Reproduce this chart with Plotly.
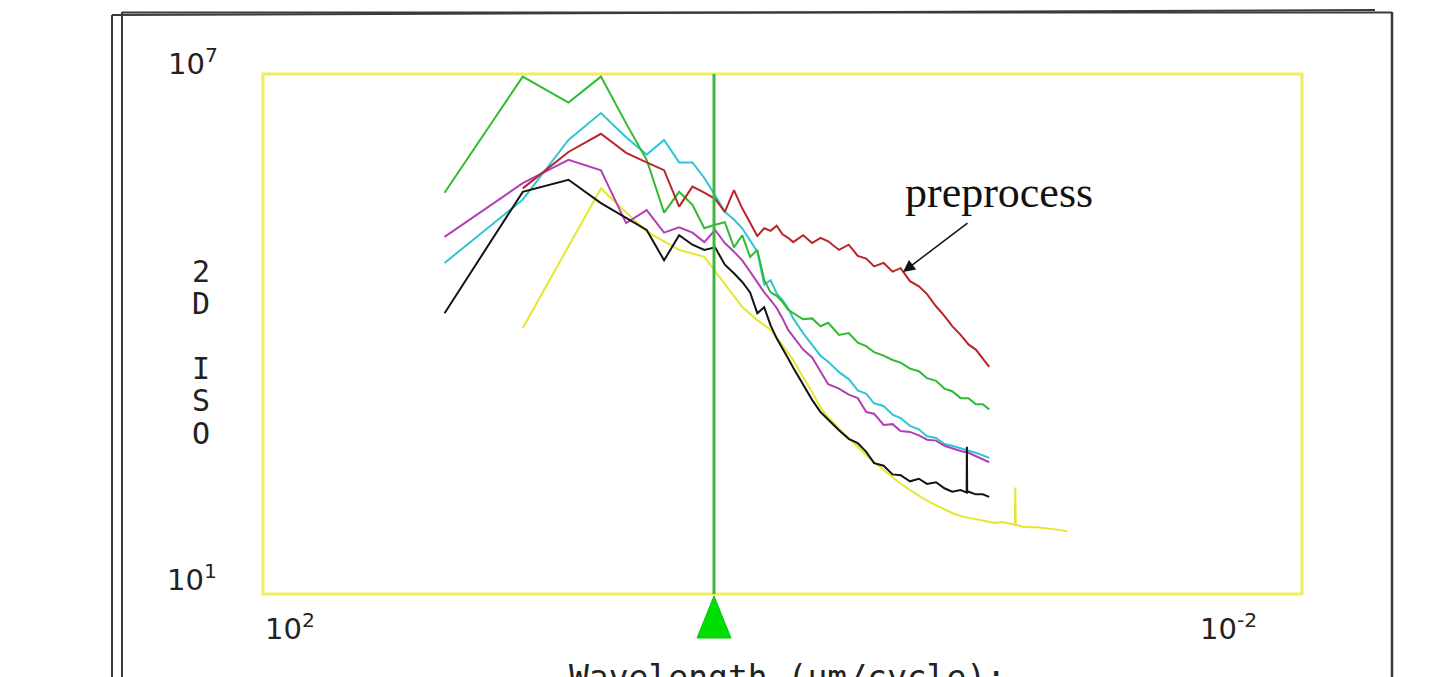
import plotly.graph_objects as go

# ---------------- data ----------------
# wavelengths (um/cycle) shared by most curves
wavelength = [20, 10, 6.667, 5, 4, 3.333, 2.857, 2.5, 2.222, 2.0,
              1.818, 1.667, 1.538, 1.429, 1.333, 1.25, 1.176, 1.111, 1.053, 1.0,
              0.952, 0.909, 0.833, 0.769, 0.714, 0.667, 0.606, 0.556, 0.513, 0.476,
              0.444, 0.408, 0.377, 0.351, 0.323, 0.2985, 0.2778, 0.2564, 0.2381, 0.2222,
              0.2062, 0.1923, 0.1802, 0.1695, 0.16]

# log10 of the 2D ISO PSD for each curve
red_log = [5.68, 6.10, 6.31, 6.09, 5.98, 5.89, 5.47, 5.70, 5.63, 5.56,
           5.41, 5.66, 5.45, 5.29, 5.13, 5.22, 5.19, 5.25, 5.15, 5.11,
           5.06, 5.14, 5.05, 5.11, 5.07, 4.97, 5.03, 4.90, 4.87, 4.78,
           4.82, 4.72, 4.76, 4.61, 4.55, 4.46, 4.32, 4.21, 4.09, 3.99,
           3.88, 3.82, 3.72, 3.62]          # starts at wavelength 10

green_log = [5.63, 6.97, 6.67, 6.97, 6.43, 6.01, 5.40, 5.64, 5.49, 5.22,
             5.26, 5.29, 5.00, 5.14, 4.89, 4.97, 4.62, 4.48, 4.44, 4.37,
             4.28, 4.24, 4.17, 4.18, 4.09, 4.13, 3.99, 4.01, 3.90, 3.86,
             3.79, 3.75, 3.70, 3.67, 3.60, 3.57, 3.49, 3.46, 3.37, 3.34,
             3.26, 3.26, 3.19, 3.19, 3.13]

cyan_log = [4.82, 5.55, 6.24, 6.55, 6.27, 6.07, 6.24, 5.98, 5.98, 5.80,
            5.60, 5.41, 5.32, 5.22, 5.08, 4.95, 4.57, 4.62, 4.47, 4.39,
            4.30, 4.18, 4.01, 3.87, 3.75, 3.68, 3.56, 3.48, 3.35, 3.31,
            3.20, 3.17, 3.07, 3.03, 2.94, 2.90, 2.82, 2.80, 2.73, 2.71,
            2.68, 2.66, 2.63, 2.60, 2.57]

purple_log = [5.12, 5.74, 6.01, 5.89, 5.28, 5.43, 5.17, 5.23, 5.17, 5.06,
              5.20, 5.05, 4.95, 4.85, 4.72, 4.60, 4.48, 4.39, 4.30, 4.18,
              4.05, 3.97, 3.82, 3.73, 3.57, 3.42, 3.37, 3.30, 3.26, 3.10,
              3.08, 2.95, 2.96, 2.88, 2.87, 2.83, 2.78, 2.77, 2.71, 2.68,
              2.65, 2.63, 2.59, 2.56, 2.52]

black_spike_wl = [0.1955, 0.195, 0.1945]
black_log = [4.24, 5.64, 5.78, 5.51, 5.34, 5.20, 4.85, 5.14, 5.03, 4.97,
             5.00, 4.80, 4.70, 4.60, 4.48, 4.24, 4.31, 4.10, 3.95, 3.84,
             3.72, 3.61, 3.41, 3.24, 3.10, 3.01, 2.89, 2.79, 2.74, 2.64,
             2.51, 2.48, 2.38, 2.37, 2.30, 2.33, 2.27, 2.29, 2.22, 2.18,
             2.20, 2.17, 2.70, 2.17, 2.18, 2.15, 2.15, 2.12]

yellow_wl = [10, 5, 3.333, 2.5, 2.0, 1.667, 1.429, 1.25, 1.111, 1.0,
             0.909, 0.833, 0.769, 0.714, 0.667, 0.588, 0.526, 0.476, 0.435, 0.4,
             0.357, 0.323, 0.294, 0.263, 0.238, 0.217, 0.2, 0.185, 0.172, 0.161,
             0.152, 0.143, 0.1335, 0.1275, 0.127, 0.1265, 0.12, 0.112, 0.105, 0.098,
             0.092, 0.086, 0.08]
yellow_log = [4.07, 5.68, 5.18, 4.97, 4.89, 4.57, 4.31, 4.16, 4.05, 3.87,
              3.70, 3.50, 3.33, 3.15, 3.04, 2.87, 2.73, 2.60, 2.50, 2.41,
              2.29, 2.20, 2.12, 2.04, 1.98, 1.92, 1.89, 1.87, 1.85, 1.84,
              1.82, 1.83, 1.81, 1.80, 2.23, 1.80, 1.78, 1.77, 1.77, 1.76,
              1.75, 1.74, 1.72]

cursor_wavelength = 1.835
x_range_log = [2, -2]   # 10^2 .. 10^-2 (reversed)
y_range_log = [1, 7]    # 10^1 .. 10^7

W, H = 1454, 677
def PX(x):
    return x / W
def PY(y):
    return 1 - y / H

def vals(logs):
    return [10 ** v for v in logs]

black_wl = wavelength[:41] + black_spike_wl + wavelength[41:]

series = [
    ("yellow", yellow_wl, yellow_log, "#e6e62e"),
    ("cyan", wavelength, cyan_log, "#2ec6d6"),
    ("purple", wavelength, purple_log, "#b23fb6"),
    ("black", black_wl, black_log, "#141414"),
    ("green", wavelength, green_log, "#2fba2f"),
    ("red", wavelength[1:], red_log, "#b8262a"),
]

fig = go.Figure()
for name, xs, ls, col in series:
    fig.add_trace(go.Scatter(x=xs, y=vals(ls), mode="lines", name=name,
                             line=dict(color=col, width=2), showlegend=False,
                             hoverinfo="skip"))

# cursor line
fig.add_trace(go.Scatter(x=[cursor_wavelength, cursor_wavelength],
                         y=[10 ** y_range_log[1], 10 ** y_range_log[0]],
                         mode="lines", line=dict(color="#3cb83c", width=3),
                         showlegend=False, hoverinfo="skip"))

fig.update_layout(
    width=W, height=H,
    margin=dict(l=0, r=0, t=0, b=0),
    paper_bgcolor="white", plot_bgcolor="white",
    xaxis=dict(type="log", range=x_range_log, domain=[PX(263), PX(1302)],
               showgrid=False, zeroline=False, showticklabels=False,
               ticks="", showline=False),
    yaxis=dict(type="log", range=y_range_log, domain=[PY(594), PY(74)],
               showgrid=False, zeroline=False, showticklabels=False,
               ticks="", showline=False),
)

shapes = []
# yellow plot frame
shapes.append(dict(type="rect", xref="paper", yref="paper",
                   x0=PX(263), x1=PX(1302), y0=PY(594), y1=PY(74),
                   line=dict(color="#eeee60", width=3), layer="below"))
# outer window frame lines
frame_col = "#3a3a3a"
shapes.append(dict(type="line", xref="paper", yref="paper",
                   x0=PX(112), y0=PY(15), x1=PX(112), y1=PY(680),
                   line=dict(color=frame_col, width=2)))
shapes.append(dict(type="line", xref="paper", yref="paper",
                   x0=PX(122), y0=PY(12), x1=PX(122), y1=PY(680),
                   line=dict(color=frame_col, width=2)))
shapes.append(dict(type="line", xref="paper", yref="paper",
                   x0=PX(112), y0=PY(15), x1=PX(1375), y1=PY(10),
                   line=dict(color=frame_col, width=2)))
shapes.append(dict(type="line", xref="paper", yref="paper",
                   x0=PX(122), y0=PY(12.5), x1=PX(1392), y1=PY(12.5),
                   line=dict(color=frame_col, width=2)))
shapes.append(dict(type="line", xref="paper", yref="paper",
                   x0=PX(1392), y0=PY(12), x1=PX(1392), y1=PY(680),
                   line=dict(color=frame_col, width=2.5)))
# cursor triangle
tri = "M {:.5f} {:.5f} L {:.5f} {:.5f} L {:.5f} {:.5f} Z".format(
    PX(714), PY(596), PX(731), PY(638), PX(697), PY(638))
shapes.append(dict(type="path", xref="paper", yref="paper", path=tri,
                   fillcolor="#00dd00", line=dict(color="#00cc00", width=1)))
fig.update_layout(shapes=shapes)

ann = []
tick_font = dict(family="DejaVu Sans", size=29, color="#222222")
for txt, x, y in [("10<sup>7</sup>", 193, 62), ("10<sup>1</sup>", 192, 578),
                  ("10<sup>2</sup>", 290, 627), ("10<sup>-2</sup>", 1228, 627)]:
    ann.append(dict(text=txt, x=PX(x), y=PY(y), xref="paper", yref="paper",
                    showarrow=False, font=tick_font, xanchor="center", yanchor="middle"))

mono = dict(family="DejaVu Sans Mono", size=30, color="#222222")
for ch, y in [("2", 271), ("D", 303), ("I", 368), ("S", 400), ("O", 433)]:
    ann.append(dict(text=ch, x=PX(201), y=PY(y), xref="paper", yref="paper",
                    showarrow=False, font=mono, xanchor="center", yanchor="middle"))

ann.append(dict(text="Wavelength (um/cycle):", x=PX(787), y=PY(656),
                xref="paper", yref="paper", showarrow=False,
                font=dict(family="DejaVu Sans Mono", size=33, color="#222222"),
                xanchor="center", yanchor="top"))

ann.append(dict(text="preprocess", x=PX(999), y=PY(192), xref="paper", yref="paper",
                showarrow=False,
                font=dict(family="Liberation Serif", size=44, color="#111111"),
                xanchor="center", yanchor="middle"))

ann.append(dict(text="", x=PX(903), y=PY(272), xref="paper", yref="paper",
                showarrow=True, ax=66, ay=-50, arrowhead=2, arrowsize=1.6,
                arrowwidth=1.5, arrowcolor="#111111"))

fig.update_layout(annotations=ann)

fig.write_html("out.html")
